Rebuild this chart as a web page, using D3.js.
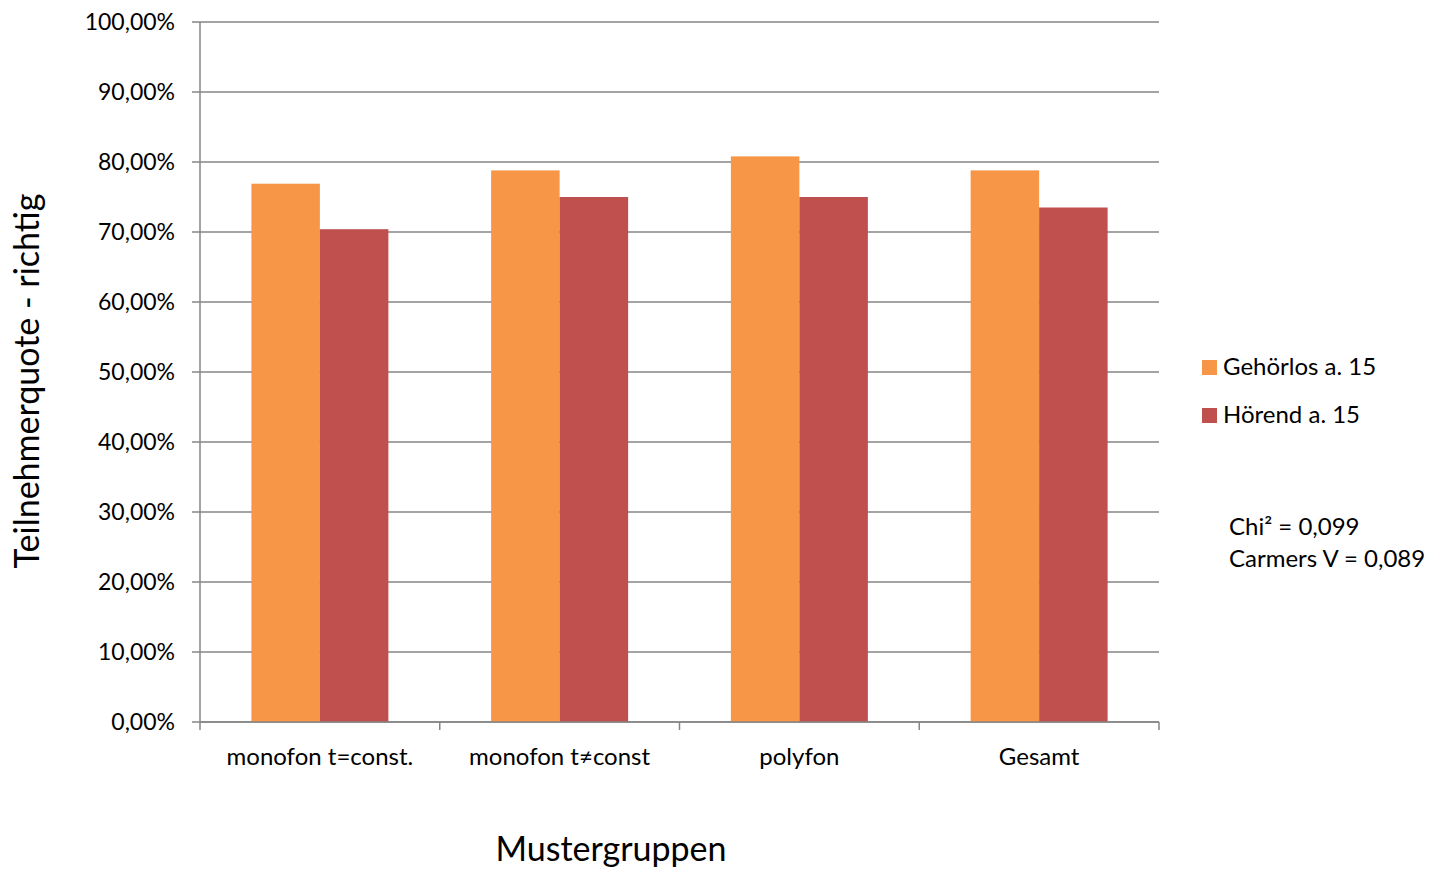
<!DOCTYPE html>
<html>
<head>
<meta charset="utf-8">
<script src="https://cdn.jsdelivr.net/npm/d3@7"></script>
<style>
  html, body { margin: 0; padding: 0; background: #fff; }
  svg { display: block; font-family: Lato, "Open Sans", sans-serif; }
</style>
</head>
<body>
<svg id="chart" width="1431" height="870"></svg>
<script>
const categories = ["monofon t=const.", "monofon t≠const", "polyfon", "Gesamt"];
const seriesNames = ["Gehörlos a. 15", "Hörend a. 15"];
const gehoerlos = [76.9, 78.8, 80.8, 78.8];
const hoerend = [70.4, 75.0, 75.0, 73.5];
const yTicks = [0, 10, 20, 30, 40, 50, 60, 70, 80, 90, 100];
const xTitle = "Mustergruppen";
const yTitle = "Teilnehmerquote - richtig";
const notes = ["Chi² = 0,099", "Carmers V = 0,089"];
const colors = ["#F79646", "#C0504D"];

(function () {
const svg = d3.select("#chart");
const pl = 200, pr = 1159, pt = 22, pb = 722;
const grid = "#868686";

const x0 = d3.scaleBand().domain(categories).range([pl, pr]).padding(0);
const x1 = d3.scaleBand().domain(seriesNames).range([0, x0.bandwidth()]).paddingInner(0).paddingOuter(0.75);
const y = d3.scaleLinear().domain([0, 100]).range([pb, pt]);

const fmt = v => v.toFixed(2).replace(".", ",") + "%";

// gridlines
svg.append("g").selectAll("line").data(yTicks).join("line")
  .attr("x1", pl - 8).attr("x2", pr)
  .attr("y1", d => y(d)).attr("y2", d => y(d))
  .attr("stroke", grid).attr("stroke-width", 1.5);

// y axis line
svg.append("line").attr("x1", pl).attr("x2", pl).attr("y1", pt).attr("y2", pb)
  .attr("stroke", grid).attr("stroke-width", 1.5);

// y tick labels
svg.append("g").selectAll("text").data(yTicks).join("text")
  .attr("x", 175).attr("y", d => y(d)).attr("dy", "0.36em")
  .attr("text-anchor", "end").attr("font-size", 23).attr("fill", "#000")
  .text(fmt);

// bars
const data = categories.map((c, i) => ({ cat: c, vals: [gehoerlos[i], hoerend[i]] }));
const groups = svg.append("g").selectAll("g").data(data).join("g")
  .attr("transform", d => `translate(${x0(d.cat)},0)`);
groups.selectAll("rect").data(d => d.vals.map((v, j) => ({ s: seriesNames[j], v, j })))
  .join("rect")
  .attr("x", d => x1(d.s)).attr("width", x1.bandwidth())
  .attr("y", d => y(d.v)).attr("height", d => y(0) - y(d.v))
  .attr("fill", d => colors[d.j]);

// x axis line + ticks
svg.append("line").attr("x1", pl).attr("x2", pr).attr("y1", pb).attr("y2", pb)
  .attr("stroke", grid).attr("stroke-width", 1.5);
const bounds = categories.map(c => x0(c)).concat([pr]);
svg.append("g").selectAll("line").data(bounds).join("line")
  .attr("x1", d => d).attr("x2", d => d).attr("y1", pb).attr("y2", pb + 8)
  .attr("stroke", grid).attr("stroke-width", 1.5);

// category labels
svg.append("g").selectAll("text").data(categories).join("text")
  .attr("x", d => x0(d) + x0.bandwidth() / 2).attr("y", 765)
  .attr("text-anchor", "middle").attr("font-size", 24).attr("fill", "#000")
  .text(d => d);

// axis titles
svg.append("text").attr("x", 611).attr("y", 861).attr("text-anchor", "middle")
  .attr("font-size", 34).attr("fill", "#000").text(xTitle);
svg.append("text").attr("transform", "translate(39,381) rotate(-90)")
  .attr("text-anchor", "middle").attr("font-size", 34).attr("fill", "#000").text(yTitle);

// legend
const lg = svg.append("g").selectAll("g").data(seriesNames).join("g")
  .attr("transform", (d, i) => `translate(1202,${360 + i * 48})`);
lg.append("rect").attr("width", 15).attr("height", 15).attr("fill", (d, i) => colors[i]);
lg.append("text").attr("x", 21).attr("y", 15).attr("font-size", 24).attr("fill", "#000").text(d => d);

// notes
svg.append("g").selectAll("text").data(notes).join("text")
  .attr("x", 1229).attr("y", (d, i) => 535 + i * 32)
  .attr("font-size", 24).attr("fill", "#000").text(d => d);
})();
</script>
</body>
</html>
